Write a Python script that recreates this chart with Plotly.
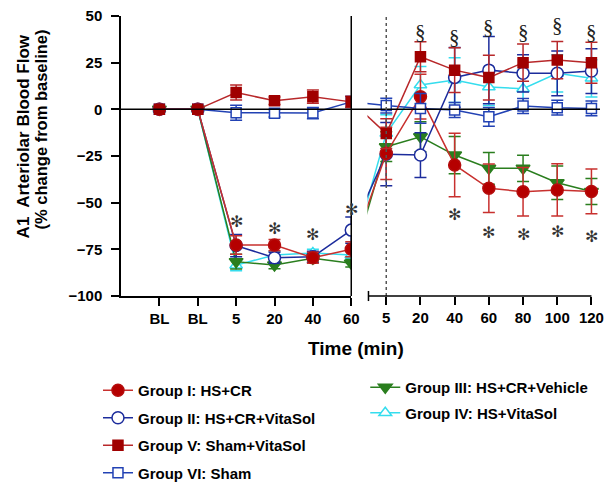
import plotly.graph_objects as go

# ---------------- data ----------------
left_labels = ["BL", "BL", "5", "20", "40", "60"]
right_labels = ["5", "20", "40", "60", "80", "100", "120"]
y_ticks = [-100, -75, -50, -25, 0, 25, 50]

g1_left = [0, 0, -72.7, -72.7, -79.5, -75.0]
g1_left_err = [0, 0, 5, 3, 3, 4]
g1_right = [-23.6, 6.8, -29.8, -42.3, -44.1, -43.2, -44.0]
g1_right_err = [14, 12, 17, 13, 13, 14, 12]

g2_left = [0, 0, -73.0, -79.5, -79.0, -64.7]
g2_left_err = [0, 0, 6, 3, 3, 7]
g2_right = [-24.0, -24.5, 17.1, 21.0, 19.3, 19.3, 20.5]
g2_right_err = [17, 12, 16, 18, 10, 12, 12]

g3_left = [0, 0, -81.6, -83.4, -79.8, -82.5]
g3_left_err = [0, 0, 4, 2, 2, 2]
g3_right = [-20.0, -14.7, -24.5, -31.6, -31.6, -39.3, -44.0]
g3_right_err = [8, 8, 10, 8.5, 7, 9, 7]

g4_left = [0, 0, -83.5, -78.0, -77.0, -78.0]
g4_left_err = [0, 0, 3, 2, 2, 2]
g4_right = [-12.9, 13.0, 15.7, 12.0, 11.0, 19.3, 16.6]
g4_right_err = [10, 10, 12, 10, 10, 10, 10]

g5_left = [0, 0, 9.0, 4.6, 6.8, 4.0]
g5_left_err = [0, 0, 4, 2, 3.5, 3]
g5_right = [-13.0, 28.2, 21.0, 17.0, 25.0, 26.4, 25.0]
g5_right_err = [8, 8, 12, 12, 10, 10, 11]

g6_left = [0, 0, -1.8, -2.1, -2.0, 4.0]
g6_left_err = [0, 0, 4, 2, 3, 3]
g6_right = [2.0, 0.5, -0.4, -4.0, 1.8, 0.9, 0.5]
g6_right_err = [4, 8, 4, 5, 4, 4, 4]

star_left_idx = [2, 3, 4, 5]
star_left_y = [-60.2, -63.8, -67.0, -53.9]
star_right_idx = [2, 3, 4, 5, 6]
star_right_y = [-56.6, -65.9, -66.8, -65.7, -68.2]
sect_right_idx = [1, 2, 3, 4, 5, 6]
sect_right_y = [41.6, 38.9, 44.3, 41.6, 45.2, 41.6]

# ---------------- layout geometry ----------------
XL_RANGE = [-1, 5]
XR_RANGE = [-0.55, 6.25]
DOM_L = [0.0, 0.4807]
DOM_R = [0.5145, 1.0]
FONT = "Liberation Sans, Arial, sans-serif"
PW, PH, ML, MT = 478.5, 280.0, 121, 16


def paper_x(v, rng, dom):
    return dom[0] + (v - rng[0]) / (rng[1] - rng[0]) * (dom[1] - dom[0])


def px2paper(px, py):
    return (px - ML) / PW, (MT + PH - py) / PH


groups = [
    # name, left, lerr, right, rerr, color, line color, symbol, fill, size, legend, rank
    ("Group IV: HS+VitaSol", g4_left, g4_left_err, g4_right, g4_right_err,
     "#35DDEE", "#35DDEE", "triangle-up", "white", 11, "legend2", 6),
    ("Group III: HS+CR+Vehicle", g3_left, g3_left_err, g3_right, g3_right_err,
     "#2A7E1E", "#2A7E1E", "triangle-down", "#2A7E1E", 12, "legend2", 5),
    ("Group II: HS+CR+VitaSol", g2_left, g2_left_err, g2_right, g2_right_err,
     "#1C2C9C", "#1C2C9C", "circle", "white", 12, "legend", 2),
    ("Group I: HS+CR", g1_left, g1_left_err, g1_right, g1_right_err,
     "#B50D0D", "#C8302E", "circle", "#B50000", 12, "legend", 1),
    ("Group VI: Sham", g6_left, g6_left_err, g6_right, g6_right_err,
     "#2242B4", "#2242B4", "square", "white", 10, "legend", 4),
    ("Group V: Sham+VitaSol", g5_left, g5_left_err, g5_right, g5_right_err,
     "#A00000", "#B8282A", "square", "#A00000", 10, "legend", 3),
]

fig = go.Figure()

for name, lv, le, rv, re_, col, lcol, sym, fill, size, leg, rank in groups:
    mk = dict(symbol=sym, size=size, color=fill, line=dict(color=col, width=1.5))
    eb_l = dict(type="data", array=le, color=lcol, thickness=1.5, width=6)
    eb_r = dict(type="data", array=re_, color=lcol, thickness=1.5, width=6)
    # connector across the axis break (clipped by the right panel)
    fig.add_trace(go.Scatter(
        x=[-1, 0], y=[lv[-1], rv[0]], xaxis="x2", yaxis="y", mode="lines",
        line=dict(color=lcol, width=1.5), showlegend=False, hoverinfo="skip"))
    fig.add_trace(go.Scatter(
        x=list(range(len(left_labels))), y=lv, error_y=eb_l, xaxis="x", yaxis="y",
        mode="lines+markers", line=dict(color=lcol, width=1.5), marker=mk,
        name=name, legend=leg, legendrank=rank, legendgroup=name, showlegend=True))
    fig.add_trace(go.Scatter(
        x=list(range(len(right_labels))), y=rv, error_y=eb_r, xaxis="x2", yaxis="y",
        mode="lines+markers", line=dict(color=lcol, width=1.5), marker=mk,
        name=name, legendgroup=name, showlegend=False))

tickfont = dict(family=FONT, size=15, color="black", weight="bold")

shapes = [
    # zero line across both panels
    dict(type="line", xref="paper", yref="y", x0=0, x1=1, y0=0, y1=0,
         line=dict(color="black", width=1.5)),
    # full-height line at 60 min
    dict(type="line", xref="paper", yref="paper", x0=DOM_L[1], x1=DOM_L[1], y0=0, y1=1,
         line=dict(color="black", width=1.5)),
    # dotted line at reperfusion start
    dict(type="line", xref="x2", yref="y", x0=0, x1=0, y0=-100, y1=50,
         line=dict(color="#555555", width=1.5, dash="dot")),
    # right panel axis line
    dict(type="line", xref="paper", yref="paper",
         x0=paper_x(-0.52, XR_RANGE, DOM_R), x1=paper_x(6, XR_RANGE, DOM_R), y0=0, y1=0,
         line=dict(color="black", width=1.5)),
    dict(type="line", xref="paper", yref="paper",
         x0=paper_x(-0.52, XR_RANGE, DOM_R), x1=paper_x(-0.52, XR_RANGE, DOM_R),
         y0=-0.018, y1=0.018, line=dict(color="black", width=1.5)),
]

annotations = []
for i, y in zip(star_left_idx, star_left_y):
    annotations.append(dict(x=i, y=y, xref="x", yref="y", text="✻", showarrow=False,
                            xanchor="center", yanchor="middle",
                            font=dict(family="DejaVu Sans", size=16, color="#333333")))
for i, y in zip(star_right_idx, star_right_y):
    annotations.append(dict(x=i, y=y, xref="x2", yref="y", text="✻", showarrow=False,
                            xanchor="center", yanchor="middle",
                            font=dict(family="DejaVu Sans", size=16, color="#333333")))
for i, y in zip(sect_right_idx, sect_right_y):
    annotations.append(dict(x=i, y=y, xref="x2", yref="y", text="§", showarrow=False,
                            xanchor="center", yanchor="middle",
                            font=dict(family="Liberation Serif", size=21, color="#222222")))

t1x, t1y = px2paper(23.5, 136)
t2x, t2y = px2paper(41.5, 129)
t3x, t3y = px2paper(355.5, 348)
annotations += [
    dict(x=t1x, y=t1y, xref="paper", yref="paper", xanchor="center", yanchor="middle",
         text="A1&nbsp; Arteriolar Blood Flow", textangle=-90, showarrow=False,
         font=dict(family=FONT, size=17, color="black", weight="bold")),
    dict(x=t2x, y=t2y, xref="paper", yref="paper", xanchor="center", yanchor="middle",
         text="(% change from baseline)", textangle=-90, showarrow=False,
         font=dict(family=FONT, size=16.5, color="black", weight="bold")),
    dict(x=t3x, y=t3y, xref="paper", yref="paper", xanchor="center", yanchor="middle",
         text="Time (min)", showarrow=False,
         font=dict(family=FONT, size=19, color="black", weight="bold")),
]

legfont = dict(family=FONT, size=15, color="black", weight="bold")
l1x, l1y = px2paper(98, 374)
l2x, l2y = px2paper(365, 371)

fig.update_layout(
    width=604, height=483,
    margin=dict(l=ML, r=4, t=MT, b=483 - MT - int(PH), autoexpand=False),
    paper_bgcolor="white", plot_bgcolor="white",
    showlegend=True,
    xaxis=dict(domain=DOM_L, range=XL_RANGE, tickvals=list(range(len(left_labels))),
               ticktext=left_labels, showgrid=False, zeroline=False, showline=True,
               linecolor="black", linewidth=1.5, ticks="outside", ticklen=8,
               tickwidth=1.5, tickcolor="black", tickfont=tickfont, anchor="y",
               ticklabelstandoff=0),
    xaxis2=dict(domain=DOM_R, range=XR_RANGE, tickvals=list(range(len(right_labels))),
                ticktext=right_labels, showgrid=False, zeroline=False, showline=False,
                ticks="outside", ticklen=8, tickwidth=1.5, tickcolor="black",
                tickfont=tickfont, anchor="y", ticklabelstandoff=0),
    yaxis=dict(range=[-100, 50], tickvals=y_ticks, showgrid=False, zeroline=False,
               showline=True, linecolor="black", linewidth=1.5, ticks="outside",
               ticklen=8, tickwidth=1.5, tickcolor="black", tickfont=tickfont,
               anchor="x", ticklabelstandoff=6),
    legend=dict(x=l1x, y=l1y, xanchor="left", yanchor="top",
                font=legfont, bgcolor="rgba(0,0,0,0)", traceorder="grouped",
                tracegroupgap=5, itemclick=False),
    legend2=dict(x=l2x, y=l2y, xanchor="left", yanchor="top",
                 font=legfont, bgcolor="rgba(0,0,0,0)", traceorder="grouped",
                 tracegroupgap=3, itemclick=False),
    shapes=shapes,
    annotations=annotations,
)

fig.write_html("out.html", config={"displayModeBar": False},
               post_script="document.body.style.margin='0';")
